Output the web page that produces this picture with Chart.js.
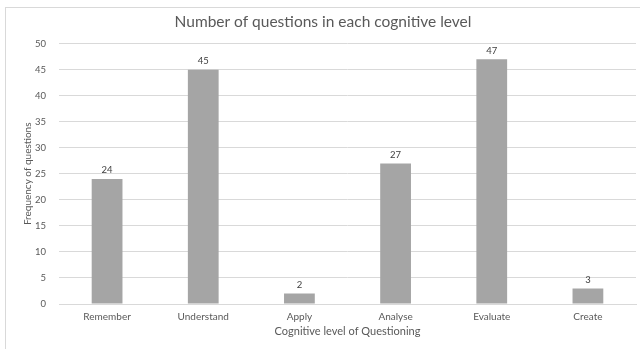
<!DOCTYPE html>
<html>
<head>
<meta charset="utf-8">
<script src="https://cdn.jsdelivr.net/npm/chart.js@4/dist/chart.umd.min.js"></script>
<style>
  html, body { margin: 0; padding: 0; background: #fff; }
  #wrap { position: relative; width: 640px; height: 349px; }
  #frame { position: absolute; left: 5px; top: 7px; width: 650px; height: 360px; border: 1px solid #d9d9d9; box-sizing: border-box; }
  canvas { position: absolute; left: 0; top: 0; }
</style>
</head>
<body>
<div id="wrap">
  <div id="frame"></div>
  <canvas id="chart" width="640" height="349"></canvas>
</div>
<script>
// dane z wykresu
const categories = ["Remember", "Understand", "Apply", "Analyse", "Evaluate", "Create"];
const questionCounts = [24, 45, 2, 27, 47, 3];
const yTicks = [0, 5, 10, 15, 20, 25, 30, 35, 40, 45, 50];

const FONT = "Lato, 'Open Sans', sans-serif";
const GREY_TEXT = "#595959";

// etykiety wartości nad słupkami
const valueLabels = {
  id: "valueLabels",
  afterDatasetsDraw(chart) {
    const ctx = chart.ctx;
    const meta = chart.getDatasetMeta(0);
    ctx.save();
    ctx.font = "9.5px " + FONT;
    ctx.fillStyle = "#404040";
    ctx.textAlign = "center";
    ctx.textBaseline = "bottom";
    meta.data.forEach((bar, i) => {
      ctx.fillText(String(chart.data.datasets[0].data[i]), bar.x, bar.y - 4);
    });
    ctx.restore();
  }
};

new Chart(document.getElementById("chart"), {
  type: "bar",
  data: {
    labels: categories,
    datasets: [{
      data: questionCounts,
      backgroundColor: "#a5a5a5",
      borderWidth: 0,
      categoryPercentage: 1,
      barPercentage: 0.32
    }]
  },
  options: {
    responsive: false,
    animation: false,
    layout: { padding: { left: 10, right: 4, top: 0, bottom: 11 } },
    plugins: {
      legend: { display: false },
      tooltip: { enabled: false },
      title: {
        display: true,
        text: "Number of questions in each cognitive level",
        color: GREY_TEXT,
        font: { family: FONT, size: 15.5, weight: "normal" },
        padding: { top: 13, bottom: 12 }
      }
    },
    scales: {
      x: {
        grid: { display: false, drawTicks: false },
        border: { display: true, color: "#d9d9d9" },
        ticks: { color: GREY_TEXT, font: { family: FONT, size: 10 }, padding: 7, maxRotation: 0 },
        title: {
          display: true,
          text: "Cognitive level of Questioning",
          color: GREY_TEXT,
          font: { family: FONT, size: 11 },
          padding: { top: 2, bottom: 0 }
        },
        afterFit(scale) { scale.height = 34; }
      },
      y: {
        min: 0,
        max: 50,
        afterBuildTicks(scale) { scale.ticks = yTicks.map(v => ({ value: v })); },
        grid: { color: "#d9d9d9", drawTicks: false },
        border: { display: false },
        ticks: { color: GREY_TEXT, font: { family: FONT, size: 9.5 }, padding: 13 },
        title: {
          display: true,
          text: "Frequency of questions",
          color: GREY_TEXT,
          font: { family: FONT, size: 10 },
          padding: { top: 12, bottom: 0 }
        },
        afterFit(scale) { scale.width = 49; }
      }
    }
  },
  plugins: [valueLabels]
});
</script>
</body>
</html>
